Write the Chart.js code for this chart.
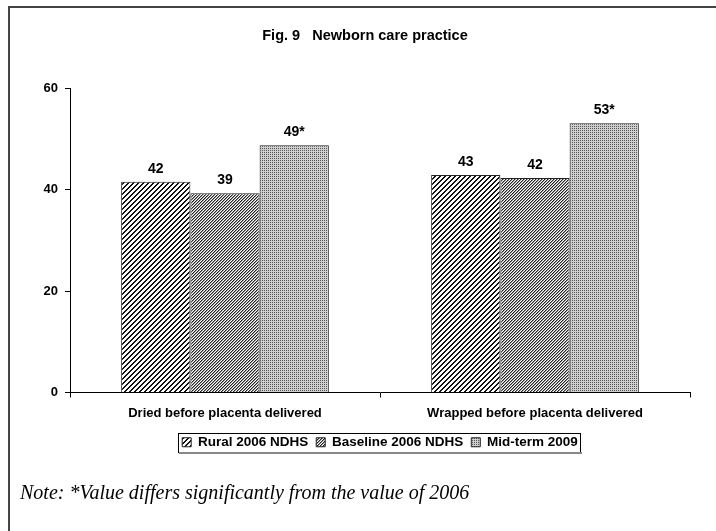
<!DOCTYPE html>
<html>
<head>
<meta charset="utf-8">
<script src="https://cdn.jsdelivr.net/npm/chart.js@4.4.1/dist/chart.umd.min.js"></script>
<style>
  html, body { margin: 0; padding: 0; background: #fff; }
  #wrap { position: relative; width: 716px; height: 531px; overflow: hidden; }
  #frame { position: absolute; left: 8px; top: 6px; width: 720px; height: 540px;
           border-left: 2px solid #444; border-top: 2px solid #444; }
  #note { position: absolute; left: 20px; top: 481px; font: italic 20px "Liberation Serif", "Times New Roman", serif; color: #000; }
  canvas { position: absolute; left: 0; top: 0; }
</style>
</head>
<body>
<div id="wrap">
  <div id="frame"></div>
  <canvas id="chart" width="716" height="531"></canvas>
  <div id="note">Note: *Value differs significantly from the value of 2006</div>
</div>
<script>
const categories = ["Dried before placenta delivered", "Wrapped before placenta delivered"];
const seriesNames = ["Rural 2006 NDHS", "Baseline 2006 NDHS", "Mid-term 2009"];
const rural2006 = [41.6, 42.9];
const baseline2006 = [39.3, 42.3];
const midterm2009 = [48.8, 53.1];
const ruralLabels = ["42", "43"];
const baselineLabels = ["39", "42"];
const midtermLabels = ["49*", "53*"];
const yTicks = [0, 20, 40, 60];

const FONT = "Arial, 'Liberation Sans', sans-serif";

// pixel patterns, like the old office hatch fills
function makePattern(size, fn) {
  const c = document.createElement("canvas");
  c.width = size; c.height = size;
  const g = c.getContext("2d");
  for (let x = 0; x < size; x++) {
    for (let y = 0; y < size; y++) {
      g.fillStyle = fn(x, y);
      g.fillRect(x, y, 1, 1);
    }
  }
  return g.createPattern(c, "repeat");
}
const ctx = document.getElementById("chart").getContext("2d");
const wideHatch = makePattern(5, (x, y) => ((x + y) % 5 < 2 ? "#111" : "#fff"));
const fineHatch = makePattern(3, (x, y) => {
  const k = (x + y) % 3;
  return k == 0 ? "#222" : (k == 1 ? "#999" : "#fff");
});
const dots = makePattern(2, (x, y) => (x % 2 == 0 && y % 2 == 0 ? "#555" : "#cfcfcf"));

const allLabels = [ruralLabels, baselineLabels, midtermLabels];

const valueLabels = {
  id: "valueLabels",
  afterDatasetsDraw(chart) {
    const c = chart.ctx;
    c.save();
    c.font = "bold 14px " + FONT;
    c.fillStyle = "#000";
    c.textAlign = "center";
    c.textBaseline = "alphabetic";
    chart.data.datasets.forEach((ds, i) => {
      chart.getDatasetMeta(i).data.forEach((bar, j) => {
        c.fillText(allLabels[i][j], bar.x, bar.y - 9);
      });
    });
    c.restore();
  }
};

// excel centres legend under the plot and the title a bit right of the canvas middle
const shiftBoxes = {
  id: "shiftBoxes",
  afterLayout(chart) {
    const a = chart.chartArea;
    const lg = chart.legend;
    const dx = (a.left + a.right) / 2 - (lg.left + lg.right) / 2;
    lg.left += dx; lg.right += dx;
    const tb = chart.titleBlock;
    tb.left += 20; tb.right += 20;
  }
};

const legendBox = {
  id: "legendBox",
  afterDraw(chart) {
    const boxes = chart.legend.legendHitBoxes;
    if (!boxes || !boxes.length) return;
    let l = Infinity, r = -Infinity, t = Infinity, b = -Infinity;
    boxes.forEach(h => {
      l = Math.min(l, h.left); r = Math.max(r, h.left + h.width);
      t = Math.min(t, h.top); b = Math.max(b, h.top + h.height);
    });
    const c = chart.ctx;
    c.save();
    c.strokeStyle = "#000";
    c.lineWidth = 1;
    c.strokeRect(Math.round(l - 4) + 0.5, Math.round(t - 3) + 0.5, Math.round(r - l + 6), Math.round(b - t + 5));
    c.strokeStyle = "#888";
    c.lineWidth = 2;
    c.beginPath();
    c.moveTo(Math.round(l - 3), Math.round(b + 3) + 1);
    c.lineTo(Math.round(r + 3) + 1, Math.round(b + 3) + 1);
    c.stroke();
    c.restore();
  }
};

new Chart(ctx, {
  type: "bar",
  data: {
    labels: categories,
    datasets: [
      { label: seriesNames[0], data: rural2006, backgroundColor: wideHatch },
      { label: seriesNames[1], data: baseline2006, backgroundColor: fineHatch },
      { label: seriesNames[2], data: midterm2009, backgroundColor: dots }
    ]
  },
  options: {
    responsive: false,
    animation: false,
    layout: { padding: { left: 0, right: 26, top: 0, bottom: 72 } },
    datasets: {
      bar: {
        borderColor: "#222",
        borderWidth: 1,
        borderSkipped: "bottom",
        categoryPercentage: 0.67,
        barPercentage: 1
      }
    },
    plugins: {
      title: {
        display: true,
        text: "Fig. 9   Newborn care practice",
        color: "#000",
        font: { family: FONT, size: 14.5, weight: "bold" },
        padding: { top: 27, bottom: 44 }
      },
      legend: {
        position: "bottom",
        labels: {
          color: "#000",
          boxWidth: 9,
          boxHeight: 9,
          padding: 8,
          font: { family: FONT, size: 13.5, weight: "bold" }
        }
      },
      tooltip: { enabled: false }
    },
    scales: {
      x: {
        afterFit: (s) => { s.height = 35; },
        grid: { display: true, drawOnChartArea: false, drawTicks: true, tickLength: 5, color: "#000" },
        border: { color: "#000", width: 1 },
        ticks: {
          color: "#000",
          padding: 8,
          font: { family: FONT, size: 13, weight: "bold" }
        }
      },
      y: {
        min: 0,
        max: 60,
        afterFit: (s) => { s.width = 70; },
        afterBuildTicks: (s) => { s.ticks = yTicks.map(v => ({ value: v })); },
        grid: { display: true, drawOnChartArea: false, drawTicks: true, tickLength: 5, color: "#000" },
        border: { color: "#000", width: 1 },
        ticks: {
          color: "#000",
          padding: 7,
          font: { family: FONT, size: 13, weight: "bold" }
        }
      }
    }
  },
  plugins: [shiftBoxes, valueLabels, legendBox]
});
</script>
</body>
</html>
